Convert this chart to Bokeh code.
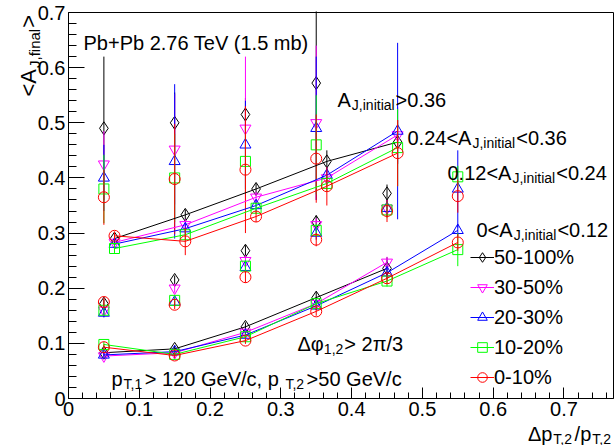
import numpy as np
from bokeh.plotting import figure
from bokeh.models import Label, Legend, LegendItem, FixedTicker, BoxAnnotation
from bokeh.embed import file_html
from bokeh.resources import INLINE

nan = float("nan")

# ---------------- data ----------------
centralities = ["50-100%", "30-50%", "20-30%", "10-20%", "0-10%"]
colors = ["#000000", "#ff00ff", "#0000ff", "#00ff00", "#ff0000"]
markers = ["diamond", "inverted_triangle", "triangle", "square", "circle"]
marker_sizes = [13, 11, 11, 10, 11]

# axis ticks
x_ticks = [0.0, 0.1, 0.2, 0.3, 0.4, 0.5, 0.6, 0.7]
x_tick_labels = ["0", "0.1", "0.2", "0.3", "0.4", "0.5", "0.6", "0.7"]
y_ticks = [0.0, 0.1, 0.2, 0.3, 0.4, 0.5, 0.6, 0.7]
y_tick_labels = ["0", "0.1", "0.2", "0.3", "0.4", "0.5", "0.6", "0.7"]

# x bins (Delta p_T,2 / p_T,2)
x_low = [0.05, 0.15, 0.25, 0.35, 0.45, 0.55]          # 0 < A_J,init < 0.12 and 0.12 < A_J,init < 0.24
x_mid = [0.065, 0.165, 0.265, 0.365, 0.465]          # 0.24 < A_J,init < 0.36
x_high = [0.05, 0.15, 0.25, 0.35]                    # A_J,init > 0.36

# 0 < A_J,initial < 0.12  (connected by lines)
g1_y = {
    "50-100%": [0.083, 0.090, 0.130, 0.183, 0.236, nan],
    "30-50%":  [0.077, 0.083, 0.120, 0.172, 0.247, nan],
    "20-30%":  [0.079, 0.085, 0.115, 0.168, 0.228, 0.305],
    "10-20%":  [0.098, 0.080, 0.112, 0.172, 0.213, 0.270],
    "0-10%":   [0.093, 0.078, 0.105, 0.158, 0.218, 0.283],
}
g1_err = {
    "50-100%": [0.006, 0.006, 0.008, 0.010, 0.020, nan],
    "30-50%":  [0.005, 0.005, 0.006, 0.008, 0.010, nan],
    "20-30%":  [0.005, 0.005, 0.006, 0.008, 0.010, 0.010],
    "10-20%":  [0.005, 0.005, 0.006, 0.008, 0.010, 0.030],
    "0-10%":   [0.005, 0.005, 0.006, 0.008, 0.010, 0.015],
}

# 0.12 < A_J,initial < 0.24  (markers only)
g2_y = {
    "50-100%": [0.172, 0.215, 0.268, 0.320, 0.372, nan],
    "30-50%":  [0.160, 0.200, 0.250, 0.315, 0.345, nan],
    "20-30%":  [0.155, 0.175, 0.238, 0.300, 0.345, 0.380],
    "10-20%":  [0.160, 0.178, 0.240, 0.305, 0.342, 0.402],
    "0-10%":   [0.175, 0.170, 0.220, 0.288, 0.340, 0.367],
}
g2_err = {
    "50-100%": [0.008, 0.008, 0.010, 0.012, 0.016, nan],
    "30-50%":  [0.008, 0.008, 0.010, 0.012, 0.015, nan],
    "20-30%":  [0.008, 0.008, 0.010, 0.012, 0.015, 0.070],
    "10-20%":  [0.008, 0.008, 0.010, 0.012, 0.015, 0.020],
    "0-10%":   [0.008, 0.008, 0.010, 0.012, 0.020, 0.030],
}

# 0.24 < A_J,initial < 0.36  (connected by lines)
g3_y = {
    "50-100%": [0.290, 0.333, 0.380, 0.430, 0.465],
    "30-50%":  [0.283, 0.315, 0.365, 0.400, 0.478],
    "20-30%":  [0.280, 0.308, 0.350, 0.405, 0.485],
    "10-20%":  [0.272, 0.297, 0.345, 0.390, 0.455],
    "0-10%":   [0.295, 0.285, 0.330, 0.385, 0.445],
}
g3_err = {
    "50-100%": [0.008, 0.010, 0.010, 0.020, 0.040],
    "30-50%":  [0.008, 0.010, 0.010, 0.015, 0.050],
    "20-30%":  [0.008, 0.010, 0.010, 0.015, 0.160],
    "10-20%":  [0.008, 0.010, 0.010, 0.015, 0.070],
    "0-10%":   [0.008, 0.025, 0.010, 0.035, 0.060],
}

# A_J,initial > 0.36  (markers only)
g4_y = {
    "50-100%": [0.490, 0.500, 0.515, 0.572],
    "30-50%":  [0.425, 0.452, 0.490, 0.500],
    "20-30%":  [0.400, 0.430, 0.460, 0.490],
    "10-20%":  [0.380, 0.400, 0.430, 0.460],
    "0-10%":   [0.365, 0.398, 0.415, 0.435],
}
g4_err = {
    "50-100%": [0.130, 0.055, 0.030, 0.130],
    "30-50%":  [0.060, 0.100, 0.130, 0.140],
    "20-30%":  [0.060, 0.140, 0.080, 0.130],
    "10-20%":  [0.062, 0.080, 0.060, 0.090],
    "0-10%":   [0.050, 0.100, 0.115, 0.080],
}

# ---------------- layout constants ----------------
W, H = 615, 445
FL, FR, FT, FB = 68, 613, 12, 398      # plot box edges on the page (px)
XMAX, YMAX = 0.77, 0.70
SX = (FR - FL) / XMAX                  # px per x unit
SY = (FB - FT) / YMAX                  # px per y unit
FONT = "Liberation Sans"
MAIN, SUB, DROP = 20, 14, 5


def dx(px):
    return (px - FL) / SX


def dy(py):
    return (FB - py) / SY


p = figure(width=W, height=H, x_range=(dx(0), dx(W)), y_range=(dy(H), dy(0)),
           output_backend="svg", toolbar_location=None,
           min_border_left=0, min_border_right=0, min_border_top=0, min_border_bottom=0)
p.background_fill_color = "white"
p.border_fill_color = "white"
p.outline_line_color = None
p.xgrid.visible = False
p.ygrid.visible = False

minor = [round(0.02 * i, 2) for i in range(0, 39) if i % 5 != 0]
for ax, ticks, labels, tin, mtin, hi in ((p.xaxis[0], x_ticks, x_tick_labels, 11, 6, XMAX),
                                         (p.yaxis[0], y_ticks, y_tick_labels, 16, 8, YMAX)):
    ax.fixed_location = 0
    ax.bounds = (0, hi)
    ax.ticker = FixedTicker(ticks=ticks, minor_ticks=[m for m in minor if m < hi])
    ax.major_label_overrides = {t: l for t, l in zip(ticks, labels)}
    ax.major_tick_in = tin
    ax.major_tick_out = 0
    ax.minor_tick_in = mtin
    ax.minor_tick_out = 0
    ax.major_tick_line_color = "black"
    ax.minor_tick_line_color = "black"
    ax.axis_line_color = "black"
    ax.major_label_text_font = FONT
    ax.major_label_text_font_size = f"{MAIN}px"
    ax.major_label_text_color = "black"
    ax.major_label_standoff = 3

# plot box
p.add_layout(BoxAnnotation(left=0, right=XMAX, bottom=0, top=YMAX, fill_color=None,
                           fill_alpha=0, line_color="black", line_width=1, line_alpha=1))

groups = [
    (x_high, g4_y, g4_err, False),
    (x_low, g2_y, g2_err, False),
    (x_mid, g3_y, g3_err, True),
    (x_low, g1_y, g1_err, True),
]
legend_renderers = {c: [] for c in centralities}
for xs, gy, ge, connect in groups:
    for c, col, mk, ms in zip(centralities, colors, markers, marker_sizes):
        x = np.array(xs, dtype=float)
        y = np.array(gy[c], dtype=float)
        e = np.array(ge[c], dtype=float)
        ok = ~np.isnan(y)
        p.segment(x0=x[ok], y0=(y - e)[ok], x1=x[ok], y1=(y + e)[ok], line_color=col, line_width=1)
        r_line = None
        if connect:
            r_line = p.line(x=x[ok], y=y[ok], line_color=col, line_width=1)
        r_sc = p.scatter(x=x[ok], y=y[ok], marker=mk, size=ms, line_color=col,
                         fill_color=None, line_width=1)
        if connect and xs is x_low:
            legend_renderers[c] = [r_line, r_sc]

legend = Legend(items=[LegendItem(label=c, renderers=legend_renderers[c]) for c in centralities],
                location=(470, H - 389), orientation="vertical",
                glyph_width=24, glyph_height=24, label_height=24, spacing=6,
                label_standoff=0, padding=0, margin=0,
                border_line_color=None, background_fill_alpha=0,
                label_text_font=FONT, label_text_font_size=f"{MAIN}px",
                label_text_color="black")
p.add_layout(legend)

# ---------------- text with subscripts ----------------
WID = {" ": 278, ".": 278, ",": 278, "<": 584, ">": 584, "+": 584, "-": 333, "(": 333,
       ")": 333, "/": 278, "%": 889, "A": 667, "J": 500, "P": 667, "T": 611, "V": 667,
       "G": 778, "a": 556, "b": 556, "c": 500, "e": 556, "f": 278, "i": 222, "l": 222,
       "m": 833, "n": 556, "p": 556, "t": 278, "Δ": 668, "φ": 600, "π": 560}


def tw(s, size):
    return sum(WID.get(ch, 556) for ch in s) * size / 1000.0


def rich(px, py, parts, rotated=False, align_right=False, main=MAIN, sub=SUB, drop=DROP):
    total = 0.0
    for t, is_sub in parts:
        total += tw(t, sub if is_sub else main) + (2 if is_sub else 0)
    cur = -total if align_right else 0.0
    for t, is_sub in parts:
        size = sub if is_sub else main
        if is_sub:
            cur += 1
        if rotated:
            ax_, ay_ = px + (drop if is_sub else 0), py - cur
        else:
            ax_, ay_ = px + cur, py + (drop if is_sub else 0)
        p.add_layout(Label(x=dx(ax_), y=dy(ay_), text=t, text_font=FONT,
                           text_font_size=f"{size}px", text_color="black",
                           text_baseline="alphabetic", text_align="left",
                           angle=(np.pi / 2 if rotated else 0.0)))
        cur += tw(t, size) + (1 if is_sub else 0)


rich(83, 42, [("Pb+Pb 2.76 TeV (1.5 mb)", False)])
rich(337, 99, [("A", False), ("J,initial", True), (">0.36", False)])
rich(407, 137, [("0.24<A", False), ("J,initial", True), ("<0.36", False)])
rich(447, 172, [("0.12<A", False), ("J,initial", True), ("<0.24", False)])
rich(476, 229, [("0<A", False), ("J,initial", True), ("<0.12", False)])
rich(297, 343, [("Δφ", False), ("1,2", True), (" > 2π/3", False)])
rich(111, 378, [("p", False), ("T,1", True), (" > 120 GeV/c, p", False), ("T,2", True),
                (" >50 GeV/c", False)])
rich(613, 433, [("Δp", False), ("T,2", True), ("/p", False), ("T,2", True)], align_right=True)
rich(28, 96, [("<A", False), ("J,final", True), (">", False)], rotated=True,
     main=22, sub=15, drop=6)

open("out.html", "w").write(file_html(p, INLINE))
